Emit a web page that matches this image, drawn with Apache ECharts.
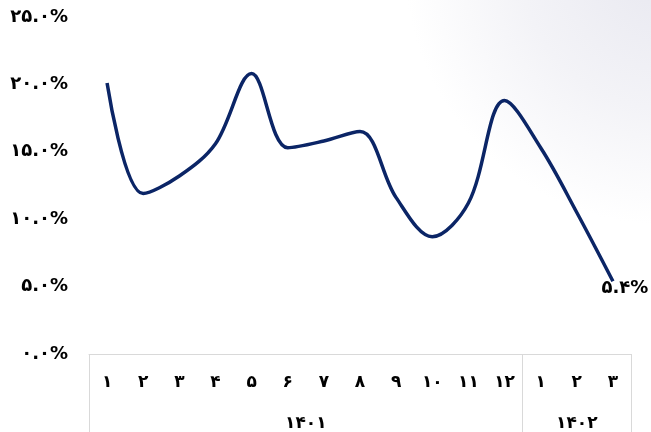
<!DOCTYPE html>
<html>
<head>
<meta charset="utf-8">
<script src="https://cdn.jsdelivr.net/npm/echarts@6/dist/echarts.min.js"></script>
<style>html,body{margin:0;padding:0;background:#fff}#c{width:651px;height:432px}</style>
</head>
<body>
<div id="c"></div>
<script>
const categories = ['۱','۲','۳','۴','۵','۶','۷','۸','۹','۱۰','۱۱','۱۲','۱','۲','۳'];
const groupLabels = ['۱۴۰۱','۱۴۰۲'];
const groupSizes = [12, 3];
const values = [20.1, 11.9, 13.2, 15.6, 20.8, 15.3, 15.8, 16.5, 11.6, 8.7, 11.2, 18.8, 15.3, 10.5, 5.4];
const yTickLabels = ['۰.۰%','۵.۰%','۱۰.۰%','۱۵.۰%','۲۰.۰%','۲۵.۰%'];

const fa = s => String(s).replace(/[0-9]/g, d => '۰۱۲۳۴۵۶۷۸۹'[d]);

// half-slot axis for group labels and separators
const slots = new Array(categories.length * 2 + 1).fill('');
const labelIdx = {}, tickIdx = new Set();
let start = 0;
groupSizes.forEach((n, g) => {
  tickIdx.add(2 * start);
  labelIdx[2 * start + n] = groupLabels[g];
  slots[2 * start + n] = groupLabels[g];
  start += n;
});
tickIdx.add(2 * start);

const seriesData = values.map((v, i) => i === values.length - 1
  ? {value: v, label: {show: true}} : v);

const chart = echarts.init(document.getElementById('c'), null, {renderer: 'canvas'});
const font = 'DejaVu Sans';
chart.setOption({
  animation: false,
  backgroundColor: {
    type: 'radial', x: 1.02, y: -0.08, r: 0.6,
    colorStops: [{offset: 0, color: '#e8e8f0'}, {offset: 0.55, color: '#f3f3f7'}, {offset: 1, color: '#ffffff'}]
  },
  grid: {left: 89, right: 20, top: 17, bottom: 76},
  xAxis: [{
    type: 'category',
    data: categories,
    boundaryGap: true,
    axisLine: {show: true, lineStyle: {color: '#d9d9d9', width: 1}},
    axisTick: {show: false},
    axisLabel: {interval: 0, margin: 20, color: '#000', fontSize: 17, fontWeight: 'bold', fontFamily: font}
  }, {
    type: 'category',
    position: 'bottom',
    data: slots,
    boundaryGap: false,
    axisLine: {show: false},
    axisTick: {show: true, length: 80, interval: (i) => tickIdx.has(i), lineStyle: {color: '#d9d9d9', width: 1}},
    axisLabel: {interval: (i) => labelIdx[i] !== undefined, margin: 61, color: '#000', fontSize: 17, fontWeight: 'bold', fontFamily: font}
  }],
  yAxis: {
    type: 'value',
    min: 0, max: 25, interval: 5,
    axisLine: {show: false},
    axisTick: {show: false},
    splitLine: {show: false},
    axisLabel: {
      margin: 21, color: '#000', fontSize: 18, fontWeight: 'bold', fontFamily: font,
      formatter: v => yTickLabels[Math.round(v / 5)]
    }
  },
  series: [{
    type: 'line',
    xAxisIndex: 0,
    data: seriesData,
    smooth: 0.35,
    symbol: 'circle',
    symbolSize: 0.1,
    showSymbol: true,
    itemStyle: {color: 'rgba(0,0,0,0)'},
    lineStyle: {color: '#0b2566', width: 3.5},
    label: {
      show: false,
      position: 'inside',
      offset: [12, 7],
      color: '#000', fontSize: 18, fontWeight: 'bold', fontFamily: font,
      formatter: p => fa(p.value.toFixed(1)) + '%'
    }
  }]
});
</script>
</body>
</html>
